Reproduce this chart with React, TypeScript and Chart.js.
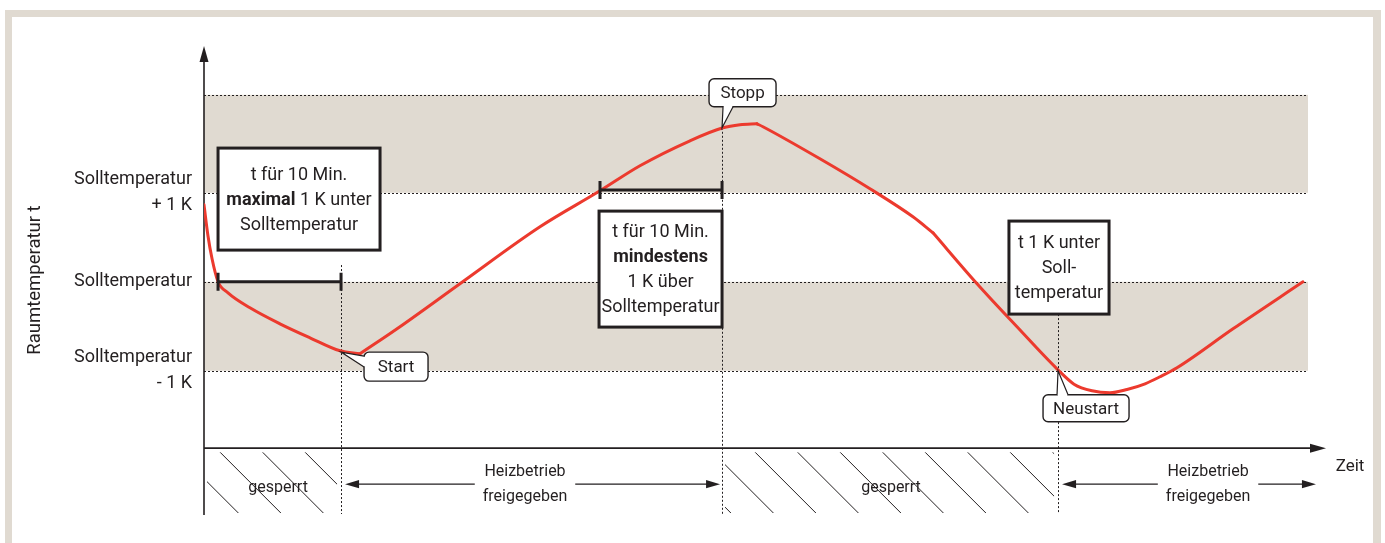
import React, { useEffect, useRef } from "react";
import { Chart, registerables } from "chart.js";

Chart.register(...registerables);

// ---------- data ----------
// time in minutes, temperature in K relative to Solltemperatur
const curveTime = [0, 0.33, 0.67, 1.17, 2.0, 3.83, 6.33, 8.83, 11.33, 13.0, 16.33, 21.33, 28.0, 33.0, 36.33, 40.5, 43.25, 44.67, 46.08, 46.58, 51.33, 55.5, 59.08, 60.75, 64.42, 67.75, 71.08, 72.5, 74.0, 75.5, 76.92, 78.42, 79.67, 81.08, 85.75, 91.58];
const curveTemp = [0.865, 0.517, 0.258, 0, -0.124, -0.292, -0.472, -0.629, -0.775, -0.809, -0.505, -0.022, 0.618, 1.022, 1.303, 1.584, 1.73, 1.764, 1.775, 1.742, 1.382, 1.045, 0.73, 0.55, -0.022, -0.506, -0.978, -1.15, -1.225, -1.247, -1.21, -1.146, -1.067, -0.966, -0.528, 0];
// times at which the curve has a corner (heating switched on / off)
const curveBreaks = [13.0, 46.08, 60.75];

const yTickValues = [1, 0, -1];
const yTickLabels = [["Solltemperatur", "+ 1 K"], "Solltemperatur", ["Solltemperatur", "- 1 K"]];
const yTitle = "Raumtemperatur t";
const xTitle = "Zeit";

const bandRanges = [[1, 2.1], [-1, 0]];
const guideLevels = [2.1, 1, 0, -1];
const bandEnd = 92;

const tSoll = 1.17;
const tStart = 11.42;
const tAbove = 33.0;
const tStopp = 43.17;
const tNeustart = 71.17;
const tEnd = 92.83;

const phaseBounds = [0, tStart, tStopp, tNeustart, tEnd];
const phaseLabels = [["gesperrt"], ["Heizbetrieb", "freigegeben"], ["gesperrt"], ["Heizbetrieb", "freigegeben"]];
const phaseLocked = [true, false, true, false];
const phaseLabelTime = [6.17, 26.75, 57.25, 83.67];

const timeAxisLevel = -1.869;
const xMin = 0;
const xMax = 93.5;
const yMin = -2.62;
const yMax = 2.66;

// ---------- style ----------
const FONT = "Roboto, 'Liberation Sans', Arial, sans-serif";
const INK = "#231f20";
const RED = "#ec3a2e";
const BEIGE = "#e0dad1";

// annotation layout (anchored to data coordinates)
const holdBars = [
  { from: tSoll, to: tStart, level: 0 },
  { from: tAbove, to: tStopp, level: 1.03 },
];
const noteBoxes = [
  { t0: 1.17, t1: 14.67, v0: 1.502, v1: 0.356, lines: [[{ s: "t für 10 Min." }], [{ s: "maximal", b: true }, { s: " 1 K unter" }], [{ s: "Solltemperatur" }]] },
  { t0: 32.92, t1: tStopp, v0: 0.794, v1: -0.509, lines: [[{ s: "t für 10 Min." }], [{ s: "mindestens", b: true }], [{ s: "1 K über" }], [{ s: "Solltemperatur" }]] },
  { t0: 67.08, t1: 75.42, v0: 0.682, v1: -0.363, lines: [[{ s: "t 1 K unter" }], [{ s: "Soll-" }], [{ s: "temperatur" }]] },
];
const markers = [
  { t: tStart, top: 0.188 },
  { t: tStopp, top: 1.73 },
  { t: tNeustart, top: -0.363 },
];
const callouts = [
  { text: "Start", t: tStart, v: -0.79, box: [23, 87, 0, 29], side: "left", base: [4, 15] },
  { text: "Stopp", t: tStopp, v: 1.73, box: [-13, 54, -49, -21], side: "bottom", base: [1, 11] },
  { text: "Neustart", t: tNeustart, v: -1.0, box: [-15, 71, 24, 51], side: "top", base: [-1, 10] },
];
const hatchOffset = [16, 33];

function curveSegments() {
  const segs: { x: number; y: number }[][] = [];
  let cur: { x: number; y: number }[] = [];
  curveTime.forEach((t, i) => {
    const p = { x: t, y: curveTemp[i] };
    cur.push(p);
    if (curveBreaks.includes(t)) {
      segs.push(cur);
      cur = [p];
    }
  });
  segs.push(cur);
  return segs;
}

function arrowHead(ctx: CanvasRenderingContext2D, x: number, y: number, dx: number, dy: number, len = 14, hw = 4.5) {
  const bx = x - dx * len, by = y - dy * len;
  const nx = -dy, ny = dx;
  ctx.beginPath();
  ctx.moveTo(x, y);
  ctx.lineTo(bx + nx * hw, by + ny * hw);
  ctx.lineTo(bx - nx * hw, by - ny * hw);
  ctx.closePath();
  ctx.fill();
}

function font(size: number, bold = false) {
  return `${bold ? "bold " : ""}${size}px ${FONT}`;
}

const diagramPlugin = {
  id: "diagram",
  beforeDraw(chart: any) {
    const { ctx, width, height } = chart;
    ctx.save();
    ctx.fillStyle = "#ffffff";
    ctx.fillRect(0, 0, width, height);
    ctx.fillStyle = BEIGE;
    ctx.fillRect(5, 10, 1376, height);
    ctx.fillStyle = "#ffffff";
    ctx.fillRect(12, 17, 1361, height);
    ctx.restore();
  },
  beforeDatasetsDraw(chart: any) {
    const { ctx, chartArea: a, scales } = chart;
    const X = (v: number) => scales.x.getPixelForValue(v);
    const Y = (v: number) => scales.y.getPixelForValue(v);
    ctx.save();
    // bands
    ctx.fillStyle = BEIGE;
    for (const [lo, hi] of bandRanges) {
      ctx.fillRect(a.left, Y(hi), X(bandEnd) - a.left, Y(lo) - Y(hi));
    }
    // dotted guides
    ctx.strokeStyle = INK;
    ctx.lineWidth = 1;
    ctx.setLineDash([2, 2]);
    for (const lv of guideLevels) {
      const y = Math.round(Y(lv)) + 0.5;
      ctx.beginPath();
      ctx.moveTo(a.left, y);
      ctx.lineTo(X(bandEnd), y);
      ctx.stroke();
    }
    // vertical markers
    for (const m of markers) {
      const x = Math.round(X(m.t)) + 0.5;
      ctx.beginPath();
      ctx.moveTo(x, Y(m.top));
      ctx.lineTo(x, a.bottom - 1);
      ctx.stroke();
    }
    ctx.setLineDash([]);
    // hatch for locked phases
    const axisY = Y(timeAxisLevel);
    let hi = 0;
    for (let i = 0; i < phaseLabels.length; i++) {
      if (!phaseLocked[i]) continue;
      const L = X(phaseBounds[i]) + 3;
      const R = X(phaseBounds[i + 1]) - 4;
      const T = axisY + 4;
      const B = a.bottom - 2;
      ctx.save();
      ctx.beginPath();
      ctx.rect(L, T, R - L, B - T);
      ctx.clip();
      ctx.beginPath();
      ctx.lineWidth = 1;
      ctx.strokeStyle = INK;
      for (let c = X(phaseBounds[i]) + hatchOffset[hi] - 42.5 * 3; c < R; c += 42.5) {
        ctx.moveTo(c, T);
        ctx.lineTo(c + (B - T), B);
      }
      ctx.stroke();
      ctx.restore();
      hi++;
    }
    // axes
    ctx.strokeStyle = INK;
    ctx.fillStyle = INK;
    ctx.lineWidth = 1.6;
    ctx.beginPath();
    ctx.moveTo(a.left, a.bottom);
    ctx.lineTo(a.left, a.top + 8);
    ctx.stroke();
    arrowHead(ctx, a.left, a.top + 1, 0, -1, 16, 4.5);
    ctx.beginPath();
    ctx.moveTo(a.left, axisY);
    ctx.lineTo(a.right - 8, axisY);
    ctx.stroke();
    arrowHead(ctx, a.right, axisY, 1, 0, 16, 4.5);
    ctx.restore();
  },
  afterDatasetsDraw(chart: any) {
    const { ctx, chartArea: a, scales } = chart;
    const X = (v: number) => scales.x.getPixelForValue(v);
    const Y = (v: number) => scales.y.getPixelForValue(v);
    ctx.save();
    ctx.fillStyle = INK;
    ctx.strokeStyle = INK;

    // hold bars
    for (const b of holdBars) {
      const y = Y(b.level);
      const x0 = X(b.from), x1 = X(b.to);
      ctx.lineWidth = 3;
      ctx.beginPath();
      ctx.moveTo(x0, y);
      ctx.lineTo(x1, y);
      ctx.moveTo(x0, y - 9);
      ctx.lineTo(x0, y + 9);
      ctx.moveTo(x1, y - 9);
      ctx.lineTo(x1, y + 9);
      ctx.stroke();
    }

    // note boxes
    for (const nb of noteBoxes) {
      const L = X(nb.t0), R = X(nb.t1), T = Y(nb.v0), B = Y(nb.v1);
      ctx.fillStyle = "#ffffff";
      ctx.fillRect(L, T, R - L, B - T);
      ctx.lineWidth = 3;
      ctx.strokeStyle = INK;
      ctx.strokeRect(L, T, R - L, B - T);
      ctx.fillStyle = INK;
      ctx.textBaseline = "middle";
      ctx.textAlign = "left";
      const cx = (L + R) / 2;
      const cy = (T + B) / 2 + 1;
      const lh = 25;
      nb.lines.forEach((segs: any[], i: number) => {
        const y = cy + (i - (nb.lines.length - 1) / 2) * lh;
        let w = 0;
        for (const s of segs) { ctx.font = font(18, !!s.b); w += ctx.measureText(s.s).width; }
        let x = cx - w / 2;
        for (const s of segs) { ctx.font = font(18, !!s.b); ctx.fillText(s.s, x, y); x += ctx.measureText(s.s).width; }
      });
    }

    // callouts
    for (const c of callouts) {
      const tx = X(c.t), ty = Y(c.v);
      const [bx0, bx1, by0, by1] = c.box;
      const L = tx + bx0, R = tx + bx1, T = ty + by0, B = ty + by1;
      ctx.beginPath();
      (ctx as any).roundRect(L, T, R - L, B - T, 5);
      ctx.fillStyle = "#ffffff";
      ctx.fill();
      ctx.lineWidth = 1.4;
      ctx.strokeStyle = INK;
      ctx.stroke();
      let p1: number[], p2: number[];
      if (c.side === "left") { p1 = [L, ty + c.base[0]]; p2 = [L, ty + c.base[1]]; }
      else if (c.side === "bottom") { p1 = [tx + c.base[0], B]; p2 = [tx + c.base[1], B]; }
      else { p1 = [tx + c.base[0], T]; p2 = [tx + c.base[1], T]; }
      ctx.beginPath();
      ctx.moveTo(p1[0], p1[1]);
      ctx.lineTo(tx, ty);
      ctx.lineTo(p2[0], p2[1]);
      ctx.closePath();
      ctx.fillStyle = "#ffffff";
      ctx.fill();
      ctx.strokeStyle = "#ffffff";
      ctx.lineWidth = 2.4;
      ctx.beginPath();
      if (c.side === "left") { ctx.moveTo(L, p1[1] + 0.8); ctx.lineTo(L, p2[1] - 0.8); }
      else { ctx.moveTo(p1[0] + 0.8, p1[1]); ctx.lineTo(p2[0] - 0.8, p2[1]); }
      ctx.stroke();
      ctx.strokeStyle = INK;
      ctx.lineWidth = 1.2;
      ctx.beginPath();
      ctx.moveTo(p1[0], p1[1]);
      ctx.lineTo(tx, ty);
      ctx.lineTo(p2[0], p2[1]);
      ctx.stroke();
      ctx.fillStyle = INK;
      ctx.font = font(17);
      ctx.textAlign = "center";
      ctx.textBaseline = "middle";
      ctx.fillText(c.text, (L + R) / 2, (T + B) / 2 + 1);
    }

    // phase labels and arrows
    const axisY = Y(timeAxisLevel);
    const arrowY = axisY + 36;
    ctx.font = font(16);
    ctx.textAlign = "center";
    ctx.textBaseline = "middle";
    ctx.fillStyle = INK;
    ctx.strokeStyle = INK;
    for (let i = 0; i < phaseLabels.length; i++) {
      const lx = X(phaseLabelTime[i]);
      const lines = phaseLabels[i];
      if (phaseLocked[i]) {
        ctx.fillText(lines[0], lx, axisY + 40);
        continue;
      }
      ctx.fillText(lines[0], lx, arrowY - 12);
      ctx.fillText(lines[1], lx, arrowY + 13);
      const hw = Math.max(...lines.map((l) => ctx.measureText(l).width)) / 2 + 8;
      const x0 = X(phaseBounds[i]) + 4;
      const x1 = Math.min(X(phaseBounds[i + 1]) - 2, a.right - 8);
      ctx.lineWidth = 1.3;
      ctx.beginPath();
      ctx.moveTo(x0 + 10, arrowY);
      ctx.lineTo(lx - hw, arrowY);
      ctx.moveTo(lx + hw, arrowY);
      ctx.lineTo(x1 - 10, arrowY);
      ctx.stroke();
      arrowHead(ctx, x0, arrowY, -1, 0, 14, 4.2);
      arrowHead(ctx, x1, arrowY, 1, 0, 14, 4.2);
    }
    // x title
    ctx.font = font(17);
    ctx.fillText(xTitle, a.right + 24, axisY + 19);
    ctx.restore();
  },
};

export default function App() {
  const ref = useRef<HTMLCanvasElement>(null);
  useEffect(() => {
    const canvas = ref.current!;
    const chart = new Chart(canvas, {
      type: "line",
      data: {
        datasets: curveSegments().map((seg) => ({
          data: seg,
          borderColor: RED,
          borderWidth: 3,
          borderCapStyle: "round",
          pointRadius: 0,
          fill: false,
          cubicInterpolationMode: "monotone",
        })),
      },
      options: {
        animation: false,
        responsive: false,
        devicePixelRatio: 1,
        layout: { padding: { left: 0, right: 59, top: 45, bottom: 28 } },
        plugins: { legend: { display: false }, tooltip: { enabled: false } },
        events: [],
        scales: {
          x: { type: "linear", min: xMin, max: xMax, display: false },
          y: {
            type: "linear",
            min: yMin,
            max: yMax,
            afterFit: (s: any) => { s.width = 204; s.paddingTop = 0; s.paddingBottom = 0; },
            afterBuildTicks: (s: any) => { s.ticks = yTickValues.map((v) => ({ value: v })); },
            grid: { display: false, drawTicks: false },
            border: { display: false },
            ticks: {
              autoSkip: false,
              padding: 12,
              color: INK,
              font: { family: FONT, size: 18, lineHeight: 1.45 },
              callback: (_v: any, i: number) => yTickLabels[i],
            },
            title: {
              display: true,
              text: yTitle,
              color: INK,
              font: { family: FONT, size: 18.5 },
              padding: { top: 24, bottom: 0 },
            },
          },
        },
      } as any,
      plugins: [diagramPlugin],
    });
    return () => chart.destroy();
  }, []);
  return (
    <div style={{ position: "fixed", left: 0, top: 0, width: 1385, height: 543, background: "#fff" }}>
      <canvas ref={ref} width={1385} height={543} style={{ display: "block", width: 1385, height: 543 }} />
    </div>
  );
}
